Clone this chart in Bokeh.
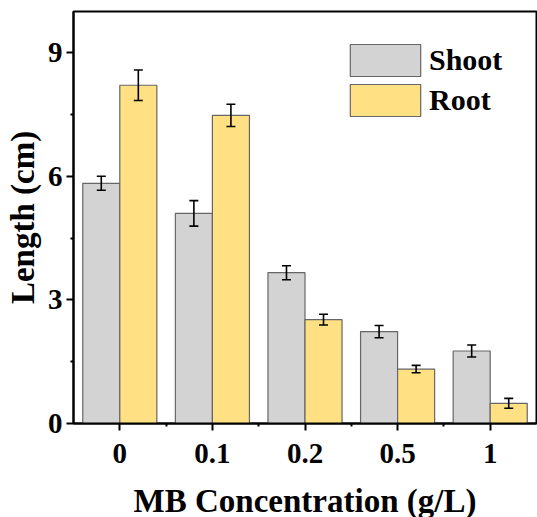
import numpy as np
from bokeh.plotting import figure
from bokeh.models import (ColumnDataSource, Range1d, FixedTicker, Whisker, TeeHead,
                          Legend, LegendItem)
from bokeh.embed import file_html
from bokeh.resources import INLINE

categories = ["0", "0.1", "0.2", "0.5", "1"]
shoot = [5.83, 5.10, 3.66, 2.23, 1.76]
shoot_err = [0.17, 0.31, 0.17, 0.15, 0.145]
root = [8.21, 7.48, 2.52, 1.32, 0.49]
root_err = [0.37, 0.27, 0.13, 0.09, 0.12]

FONT = "Liberation Serif"
idx = np.arange(len(categories))

p = figure(frame_width=463, frame_height=412, output_backend="svg", toolbar_location=None,
           x_range=Range1d(-0.5, 4.5), y_range=Range1d(0, 10),
           min_border_left=73, min_border_top=11, min_border_bottom=94,
           min_border_right=1)

src_s = ColumnDataSource(dict(x=idx - 0.2, top=shoot,
                              upper=np.array(shoot) + np.array(shoot_err),
                              lower=np.array(shoot) - np.array(shoot_err)))
src_r = ColumnDataSource(dict(x=idx + 0.2, top=root,
                              upper=np.array(root) + np.array(root_err),
                              lower=np.array(root) - np.array(root_err)))

rs = p.vbar(x="x", top="top", width=0.4, source=src_s, fill_color="#D3D3D3",
            line_color="#666666", line_width=1.2)
rr = p.vbar(x="x", top="top", width=0.4, source=src_r, fill_color="#FFE082",
            line_color="#666666", line_width=1.2)

for src in (src_s, src_r):
    w = Whisker(base="x", upper="upper", lower="lower", source=src,
                level="annotation",
                line_color="black", line_width=1.6,
                upper_head=TeeHead(size=9, line_width=1.6, line_color="black"),
                lower_head=TeeHead(size=9, line_width=1.6, line_color="black"))
    p.add_layout(w)

p.xgrid.visible = False
p.ygrid.visible = False
p.outline_line_color = "black"
p.outline_line_width = 2

p.xaxis.ticker = FixedTicker(ticks=list(idx), minor_ticks=[0.5, 1.5, 2.5, 3.5])
p.xaxis.major_label_overrides = {int(i): c for i, c in zip(idx, categories)}
p.yaxis.ticker = FixedTicker(ticks=[0, 3, 6, 9], minor_ticks=[1.5, 4.5, 7.5])

for ax in (p.xaxis[0], p.yaxis[0]):
    ax.axis_line_width = 2
    ax.axis_line_color = "black"
    ax.major_tick_line_width = 2
    ax.minor_tick_line_width = 2
    ax.major_tick_out = 7
    ax.major_tick_in = 0
    ax.minor_tick_out = 3
    ax.minor_tick_in = 0
    ax.major_label_text_font = FONT
    ax.major_label_text_font_style = "bold"
    ax.major_label_text_font_size = "29px"
    ax.major_label_text_color = "black"
    ax.axis_label_text_font = FONT
    ax.axis_label_text_font_style = "bold"
    ax.axis_label_text_font_size = "33px"
    ax.axis_label_text_color = "black"

p.xaxis.axis_label = "MB Concentration (g/L)"
p.yaxis.axis_label = "Length (cm)"
p.xaxis.major_label_standoff = 13
p.xaxis.axis_label_standoff = 17
p.yaxis.major_label_standoff = 4
p.yaxis.axis_label_standoff = 4

legend = Legend(items=[LegendItem(label="Shoot", renderers=[rs]),
                       LegendItem(label="Root", renderers=[rr])],
                location=(268, 303), padding=0, margin=0, spacing=0,
                glyph_width=88, glyph_height=40, label_standoff=0,
                label_text_font=FONT, label_text_font_style="bold",
                label_text_font_size="30px", label_text_color="black",
                border_line_color=None, background_fill_alpha=0)
p.add_layout(legend)

open("out.html", "w").write(file_html(p, INLINE))
